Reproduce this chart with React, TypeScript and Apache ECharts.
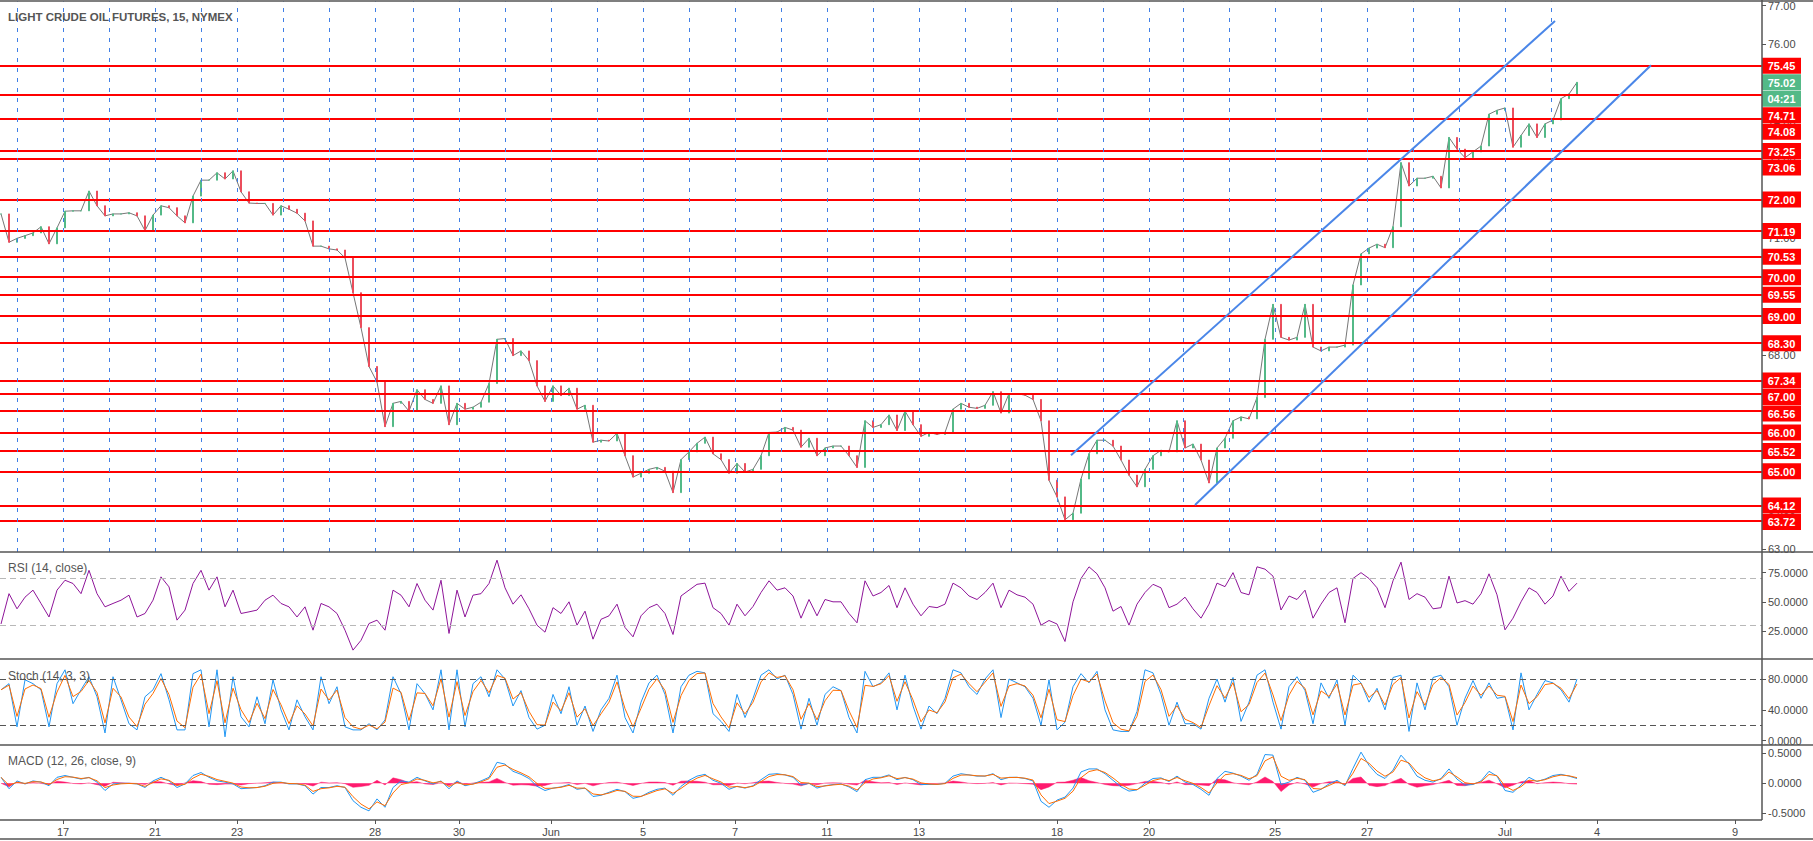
import React, { useEffect, useRef } from 'react';
import * as echarts from 'echarts';

const title = 'LIGHT CRUDE OIL FUTURES, 15, NYMEX';
const rsiTitle = 'RSI (14, close)';
const stochTitle = 'Stoch (14, 3, 3)';
const macdTitle = 'MACD (12, 26, close, 9)';

// trading sessions shown on the time axis (first one starts after 8 hours of the previous session)
const dayLabels = ['16','17','18','21','22','23','24','25','28','29','30','31','Jun','4','5','6','7','8','11','12','13','14','15','18','19','20','21','22','25','26','27','28','29','Jul','3','4','5','6','9'];
const dayHours = [23,23,23,23,18,23,23,23,19,23,23,23,23,23,23,23,23,23,23,23,23,23,23,23,23,17,23,23,23,23,23,23,23,23,23,23,23,23,23];
const dayLabelShown = [0,1,0,1,0,1,0,0,1,0,1,0,1,0,1,0,1,0,1,0,1,0,0,1,0,1,0,0,1,0,1,0,0,1,0,1,0,0,1];
const markedSessions = 35;
const hoursBeforeFirstDay = 8;
const totalHours = 881;
const sampleHours = 4;

// right-axis tick labels
const priceTicks = [63, 64, 65, 66, 67, 68, 69, 70, 71, 72, 73, 74, 75, 76, 77];
const rsiTicks = [25, 50, 75];
const stochTicks = [0, 40, 80];
const macdTicks = [-0.5, 0, 0.5];

// closes, one every 4 trading hours
const closes = [
  71.63, 70.9, 71.0, 71.07, 71.14, 71.3, 70.86, 71.27, 71.7, 71.71,
  71.71, 72.22, 71.84, 71.58, 71.63, 71.63, 71.66, 71.58, 71.2, 71.6,
  71.84, 71.79, 71.58, 71.4, 72.09, 72.5, 72.5, 72.69, 72.53, 72.74,
  72.2, 71.91, 71.9, 71.9, 71.6, 71.84, 71.75, 71.65, 71.45, 70.8,
  70.8, 70.73, 70.7, 70.5, 69.6, 68.7, 67.7, 67.3, 66.15, 66.75,
  66.8, 66.55, 67.1, 66.85, 66.75, 67.2, 66.2, 66.75, 66.6, 66.65,
  66.78, 67.26, 68.4, 68.42, 67.98, 68.1, 67.85, 67.2, 66.8, 67.2,
  66.95, 67.14, 66.6, 66.7, 65.75, 65.8, 65.78, 65.98, 65.4, 64.85,
  64.95, 65.05, 65.1, 65.0, 64.45, 65.3, 65.5, 65.72, 65.88, 65.45,
  65.3, 64.95, 65.2, 64.98, 65.05, 65.4, 66.0, 66.01, 66.13, 66.06,
  65.62, 65.85, 65.4, 65.6, 65.65, 65.65, 65.4, 65.1, 66.3, 66.13,
  66.2, 66.45, 66.05, 66.55, 66.2, 65.9, 66.0, 65.95, 66.0, 66.6,
  66.75, 66.65, 66.62, 66.7, 67.05, 66.5, 67.0, 67.0, 66.96, 66.85,
  66.3, 64.77, 64.34, 63.75, 63.92, 64.8, 65.45, 65.8, 65.8, 65.65,
  65.29, 64.9, 64.6, 65.05, 65.4, 65.54, 65.5, 66.3, 65.6, 65.7,
  65.29, 64.7, 65.6, 65.85, 66.3, 66.4, 66.35, 66.9, 68.4, 69.3,
  68.45, 68.38, 68.45, 69.3, 68.2, 68.1, 68.2, 68.2, 68.25, 69.8,
  70.6, 70.75, 70.85, 70.76, 71.3, 72.95, 72.35, 72.55, 72.55, 72.6,
  72.3, 73.6, 73.3, 73.08, 73.23, 73.38, 74.2, 74.3, 74.36, 73.35,
  73.65, 73.95, 73.6, 73.95, 74.05, 74.6, 74.72, 75.02
];

const rsi = [
  31, 57, 44, 54, 60, 48.6, 37, 60, 68.5, 65.7,
  57, 77, 57, 45.7, 48.6, 51.4, 55.7, 37, 40, 51.4,
  71.4, 62.8, 34.3, 42.9, 65.7, 77, 60, 71.4, 45.7, 60,
  40, 41.4, 42.9, 51.4, 55.7, 48.6, 45.7, 37, 45.7, 25.7,
  48.6, 45.7, 40, 25.7, 8.6, 17, 31.4, 34.3, 25.7, 60,
  55.7, 45.7, 65.7, 51.4, 42.9, 68.5, 22.9, 60, 37, 55.7,
  57, 65.7, 85.7,
  62, 48, 56, 44, 30, 24, 45, 40, 50, 30,
  42, 18, 35, 38, 48, 28, 20, 38, 45, 48,
  40, 22, 55, 60, 65, 66, 45, 40, 30, 48,
  38, 46, 58, 68, 60, 62, 55, 36, 52, 38,
  52, 50, 50, 40, 32, 68, 55, 58, 64, 45,
  62, 48, 38, 46, 45, 48, 66, 62, 55, 52,
  58, 66, 45, 60, 56, 54, 48, 30,
  34, 31, 16, 50, 70, 80, 74, 62, 42, 46,
  30, 48, 58, 65, 62, 45, 48, 54, 44, 36,
  48, 66, 63, 75, 58, 56, 80, 78, 72, 43,
  55, 52, 60, 36, 48, 58, 62, 32, 70, 75,
  70, 62, 45, 68, 84, 52, 57, 54, 44, 45,
  72, 49, 51, 48, 57, 74, 56, 26, 36, 50,
  62, 58, 48, 55, 72, 59, 66
];

const stochK = [
  66, 74, 18, 79, 74, 66, 18, 74, 92, 48,
  66, 83, 57, 10, 83, 53, 22, 14, 57, 66,
  87, 53, 14, 14, 87, 92, 18, 92, 5, 83,
  31, 18, 57, 22, 79, 40, 14, 53, 31, 14,
  83, 48, 70, 18, 14, 14, 22, 14, 27, 83,
  61, 14, 74, 61, 40, 92, 14, 92, 18, 74,
  83, 57, 92,
  80, 45, 65, 30, 15, 20, 60, 35, 70, 20,
  45, 12, 40, 55, 85, 30, 10, 50, 75, 85,
  60, 10, 70, 85, 90, 88, 35, 25, 12, 60,
  30, 55, 85, 92, 80, 85, 60, 15, 55, 20,
  60, 70, 65, 30, 10, 90, 70, 75, 88, 40,
  85, 45, 15, 45, 35, 55, 92, 88, 70, 60,
  80, 92, 30, 80, 75, 70, 55, 20,
  79, 14, 24, 70, 87, 75, 90, 40, 14, 12,
  12, 38, 92, 88, 60, 20, 50, 22, 22, 15,
  55, 80, 50, 82, 25, 50, 85, 92, 50, 15,
  70, 83, 65, 22, 75, 55, 79, 20, 85, 75,
  50, 68, 40, 82, 85, 12, 75, 40, 82, 85,
  70, 20, 55, 78, 55, 75, 55, 57, 14, 88,
  40, 60, 78, 75, 66, 50, 80
];

const macd = [
  0.10, -0.09, 0.04, -0.01, 0.04, 0.02, -0.04, 0.10, 0.13, 0.10,
  0.07, 0.10, 0.02, -0.12, -0.01, 0.0, 0.0, -0.01, -0.07, 0.04,
  0.10, 0.04, -0.07, -0.01, 0.13, 0.18, 0.10, 0.04, 0.02, -0.01,
  -0.09, -0.08, -0.07, -0.04, 0.02, 0.02, -0.01, -0.01, -0.04, -0.18,
  -0.07, -0.07, -0.04, -0.07, -0.29, -0.40, -0.46, -0.26, -0.40, -0.07,
  0.04, 0.02, 0.10, 0.04, -0.01, 0.04, -0.09, 0.04, -0.04, -0.01,
  0.04, 0.10, 0.35,
  0.32, 0.2, 0.15, 0.08, -0.05, -0.12, -0.08, -0.06, -0.02, -0.1,
  -0.08, -0.22, -0.2, -0.15, -0.1, -0.14, -0.25, -0.22, -0.15, -0.1,
  -0.08, -0.2, -0.05, 0.05, 0.12, 0.15, 0.05, 0.0, -0.1, -0.05,
  -0.08, -0.04, 0.06, 0.15, 0.16, 0.14, 0.1, -0.03, 0.0, -0.08,
  -0.04, -0.02, -0.01, -0.06, -0.14, 0.06, 0.1, 0.1, 0.14, 0.06,
  0.1, 0.06, -0.02, -0.02, -0.02, 0.0, 0.12, 0.16, 0.14, 0.12,
  0.12, 0.16, 0.06, 0.1, 0.1, 0.08, 0.04, -0.3,
  -0.40, -0.28, -0.23, -0.08, 0.19, 0.24, 0.24, 0.16, 0.05, -0.06,
  -0.13, -0.11, 0.0, 0.08, 0.09, 0.03, 0.12, 0.02, -0.02, -0.10,
  -0.2, 0.08, 0.2, 0.17, 0.12, 0.05, 0.15, 0.48, 0.47, -0.02,
  0.02, 0.10, 0.05, -0.15, -0.1, -0.01, 0.05, -0.04, 0.25, 0.52,
  0.3, 0.15, 0.08, 0.22, 0.47, 0.32, 0.12, 0.05, 0.02, 0.08,
  0.24, 0.07, -0.03, -0.02, 0.04, 0.2, 0.12, -0.12, -0.15, -0.03,
  0.1, 0.03, 0.07, 0.13, 0.15, 0.12, 0.08
];

// horizontal levels drawn on the chart
const levels = [75.45, 74.71, 74.08, 73.25, 73.06, 72.00, 71.19, 70.53, 70.00, 69.55, 69.00, 68.30, 67.34, 67.00, 66.56, 66.00, 65.52, 65.00, 64.12, 63.72];
const lastPrice = 75.02;
const countdown = '04:21';
// channel lines: [trading hour, price] anchors
const channelUpper = [[535, 65.41], [777, 76.6]];
const channelLower = [[597, 64.13], [825, 75.46]];

const FONT = '"Liberation Sans", Arial, sans-serif';
const AXIS_TEXT = '#4a4a4a';
const SEP = '#555555';

function buildOption() {
  const dayStarts: number[] = [];
  let acc = hoursBeforeFirstDay;
  for (let d = 0; d < dayLabels.length; d++) {
    dayStarts.push(acc);
    acc += dayHours[d];
  }
  const labelAt = new Map<number, string>();
  dayLabels.forEach((l, d) => {
    if (dayLabelShown[d]) labelAt.set(dayStarts[d], l);
  });
  const categories = Array.from({ length: totalHours }, (_, i) => String(i));
  const xs = closes.map((_, k) => k * sampleHours);

  const stochD: number[] = [];
  stochK.forEach((v, k) => stochD.push(k === 0 ? v : stochD[k - 1] + 0.75 * (v - stochD[k - 1])));
  const signal: number[] = [];
  macd.forEach((v, k) => signal.push(k === 0 ? v : signal[k - 1] + 0.7 * (v - signal[k - 1])));
  const hist = macd.map((v, k) => v - signal[k]);

  const grids = [
    { left: 0, width: 1762, top: 1, height: 551 },
    { left: 0, width: 1762, top: 552, height: 107 },
    { left: 0, width: 1762, top: 659, height: 86 },
    { left: 0, width: 1762, top: 745, height: 75 },
  ];

  const xAxes = grids.map((_, g) => ({
    type: 'category',
    gridIndex: g,
    data: categories,
    boundaryGap: true,
    position: 'bottom',
    axisLine: { show: false, onZero: false },
    splitLine: { show: false },
    axisTick: g === 3
      ? { show: true, interval: (i: number) => labelAt.has(i), alignWithLabel: true, length: 4, lineStyle: { color: SEP } }
      : { show: false },
    axisLabel: g === 3
      ? {
          show: true,
          interval: (i: number) => labelAt.has(i),
          formatter: (_v: string, i: number) => labelAt.get(i) ?? '',
          color: AXIS_TEXT,
          fontSize: 11,
          fontFamily: FONT,
          margin: 6,
        }
      : { show: false },
  }));

  const yAxisFor = (g: number, min: number, max: number, ticks: number[], digits: number) => ({
    type: 'value',
    gridIndex: g,
    position: 'right',
    min,
    max,
    axisLine: { show: false, onZero: false },
    splitLine: { show: false },
    axisTick: { show: true, length: 4, lineStyle: { color: SEP }, customValues: ticks },
    axisLabel: {
      customValues: ticks,
      color: AXIS_TEXT,
      fontSize: 11,
      fontFamily: FONT,
      margin: 6,
      showMinLabel: true,
      showMaxLabel: true,
      hideOverlap: false,
      formatter: (v: number) => v.toFixed(digits),
    },
  });

  const yAxes = [
    yAxisFor(0, 62.92, 77.105, priceTicks, 2),
    yAxisFor(1, 1, 92.7, rsiTicks, 4),
    yAxisFor(2, -5.6, 106, stochTicks, 4),
    yAxisFor(3, -0.612, 0.639, macdTicks, 4),
  ];

  const tags = [
    ...levels.map((v) => ({ value: v, text: v.toFixed(2), bg: '#ff0000' })),
    { value: lastPrice, text: lastPrice.toFixed(2), bg: '#53b987' },
    { value: lastPrice, text: countdown, bg: '#53b987' },
  ];

  const markLineData: any[] = [];
  levels.forEach((v) => markLineData.push({ yAxis: v, lineStyle: { color: '#ff0000', width: 2, type: 'solid' } }));
  for (let d = 0; d < markedSessions; d++) {
    markLineData.push({ xAxis: dayStarts[d], lineStyle: { color: '#3f7fe6', width: 1, type: [4, 6] } });
  }
  [channelUpper, channelLower].forEach((c) => {
    markLineData.push([
      { coord: c[0], lineStyle: { color: '#4a86e8', width: 2, type: 'solid' } },
      { coord: c[1] },
    ]);
  });

  const series: any[] = [
    {
      type: 'line',
      name: 'close',
      xAxisIndex: 0,
      yAxisIndex: 0,
      data: closes.map((c, k) => [xs[k], c]),
      showSymbol: false,
      lineStyle: { color: '#767676', width: 1 },
      z: 3,
      silent: true,
      markLine: {
        silent: true,
        symbol: ['none', 'none'],
        label: { show: false },
        animation: false,
        data: markLineData,
      },
    },
    {
      type: 'candlestick',
      name: 'price',
      xAxisIndex: 0,
      yAxisIndex: 0,
      encode: { x: 0, y: [1, 2, 3, 4] },
      data: closes.map((c, k) => {
        const o = k ? closes[k - 1] : c;
        return [xs[k], o, c, Math.min(o, c), Math.max(o, c)];
      }),
      barWidth: 2,
      itemStyle: { color: '#53b987', color0: '#eb4d5c', borderColor: '#53b987', borderColor0: '#eb4d5c', borderWidth: 1 },
      z: 4,
      silent: true,
    },
    {
      type: 'custom',
      name: 'tags',
      xAxisIndex: 0,
      yAxisIndex: 0,
      clip: false,
      z: 20,
      silent: true,
      data: tags.map((t) => [0, t.value]),
      renderItem: (params: any, api: any) => {
        const cs = params.coordSys;
        const right = cs.x + cs.width;
        const ys = tags.map((t) => api.coord([0, t.value])[1]);
        const order = tags.map((_, i) => i).sort((a, b) => ys[a] - ys[b] || a - b);
        const pos: number[] = new Array(tags.length);
        let prev = -1e9;
        order.forEach((i) => {
          const y = Math.max(ys[i], prev + 16.5);
          pos[i] = y;
          prev = y;
        });
        const i = params.dataIndex;
        const t = tags[i];
        return {
          type: 'group',
          children: [
            { type: 'rect', shape: { x: right, y: pos[i] - 8, width: 39, height: 16 }, style: { fill: t.bg } },
            {
              type: 'text',
              style: {
                x: right + 19.5,
                y: pos[i] + 0.5,
                text: t.text,
                fill: '#ffffff',
                fontSize: 11,
                fontWeight: 'bold',
                fontFamily: FONT,
                align: 'center',
                verticalAlign: 'middle',
              },
            },
          ],
        };
      },
    },
    {
      type: 'line',
      name: 'RSI',
      xAxisIndex: 1,
      yAxisIndex: 1,
      data: rsi.map((v, k) => [xs[k], v]),
      showSymbol: false,
      lineStyle: { color: '#8e1599', width: 1 },
      silent: true,
      markLine: {
        silent: true,
        symbol: ['none', 'none'],
        label: { show: false },
        lineStyle: { color: '#b8b8b8', width: 1, type: [6, 4] },
        data: [{ yAxis: 70 }, { yAxis: 30 }],
      },
    },
    {
      type: 'line',
      name: '%K',
      xAxisIndex: 2,
      yAxisIndex: 2,
      data: stochK.map((v, k) => [xs[k], v]),
      showSymbol: false,
      lineStyle: { color: '#2196f3', width: 1 },
      silent: true,
      markLine: {
        silent: true,
        symbol: ['none', 'none'],
        label: { show: false },
        lineStyle: { color: '#555555', width: 1, type: [6, 4] },
        data: [{ yAxis: 80 }, { yAxis: 20 }],
      },
    },
    {
      type: 'line',
      name: '%D',
      xAxisIndex: 2,
      yAxisIndex: 2,
      data: stochD.map((v, k) => [xs[k], v]),
      showSymbol: false,
      lineStyle: { color: '#ff6d00', width: 1 },
      silent: true,
    },
    {
      type: 'line',
      name: 'Histogram',
      xAxisIndex: 3,
      yAxisIndex: 3,
      data: hist.map((v, k) => [xs[k], v]),
      showSymbol: false,
      lineStyle: { color: '#ff1a6e', width: 0.5 },
      areaStyle: { color: '#ff1a6e', opacity: 1, origin: 0 },
      silent: true,
    },
    {
      type: 'line',
      name: 'MACD',
      xAxisIndex: 3,
      yAxisIndex: 3,
      data: macd.map((v, k) => [xs[k], v]),
      showSymbol: false,
      lineStyle: { color: '#2196f3', width: 1 },
      silent: true,
    },
    {
      type: 'line',
      name: 'Signal',
      xAxisIndex: 3,
      yAxisIndex: 3,
      data: signal.map((v, k) => [xs[k], v]),
      showSymbol: false,
      lineStyle: { color: '#ff6d00', width: 1 },
      silent: true,
    },
  ];

  const sepLine = (x1: number, y1: number, x2: number, y2: number) => ({
    type: 'line',
    silent: true,
    z: 50,
    shape: { x1, y1, x2, y2 },
    style: { stroke: SEP, lineWidth: 1.5 },
  });
  const label = (text: string, top: number, size: number, bold: boolean) => ({
    type: 'text',
    left: 8,
    top,
    z: 50,
    silent: true,
    style: { text, fill: '#555555', fontSize: size, fontFamily: FONT, fontWeight: bold ? 'bold' : 'normal' },
  });

  const graphic = [
    sepLine(0, 1, 1813, 1),
    sepLine(0, 552, 1813, 552),
    sepLine(0, 659, 1813, 659),
    sepLine(0, 745, 1813, 745),
    sepLine(0, 820, 1762, 820),
    sepLine(0, 839, 1813, 839),
    sepLine(1762, 0, 1762, 820),
    label(title, 11, 11.5, true),
    label(rsiTitle, 562, 12, false),
    label(stochTitle, 670, 12, false),
    label(macdTitle, 755, 12, false),
  ];

  return {
    animation: false,
    backgroundColor: '#ffffff',
    grid: grids,
    xAxis: xAxes,
    yAxis: yAxes,
    series,
    graphic,
  };
}

export default function App() {
  const ref = useRef<HTMLDivElement>(null);
  useEffect(() => {
    document.body.style.margin = '0';
    const chart = echarts.init(ref.current!, null, { renderer: 'svg' });
    chart.setOption(buildOption() as any);
    return () => chart.dispose();
  }, []);
  return <div ref={ref} style={{ width: 1813, height: 841 }} />;
}
